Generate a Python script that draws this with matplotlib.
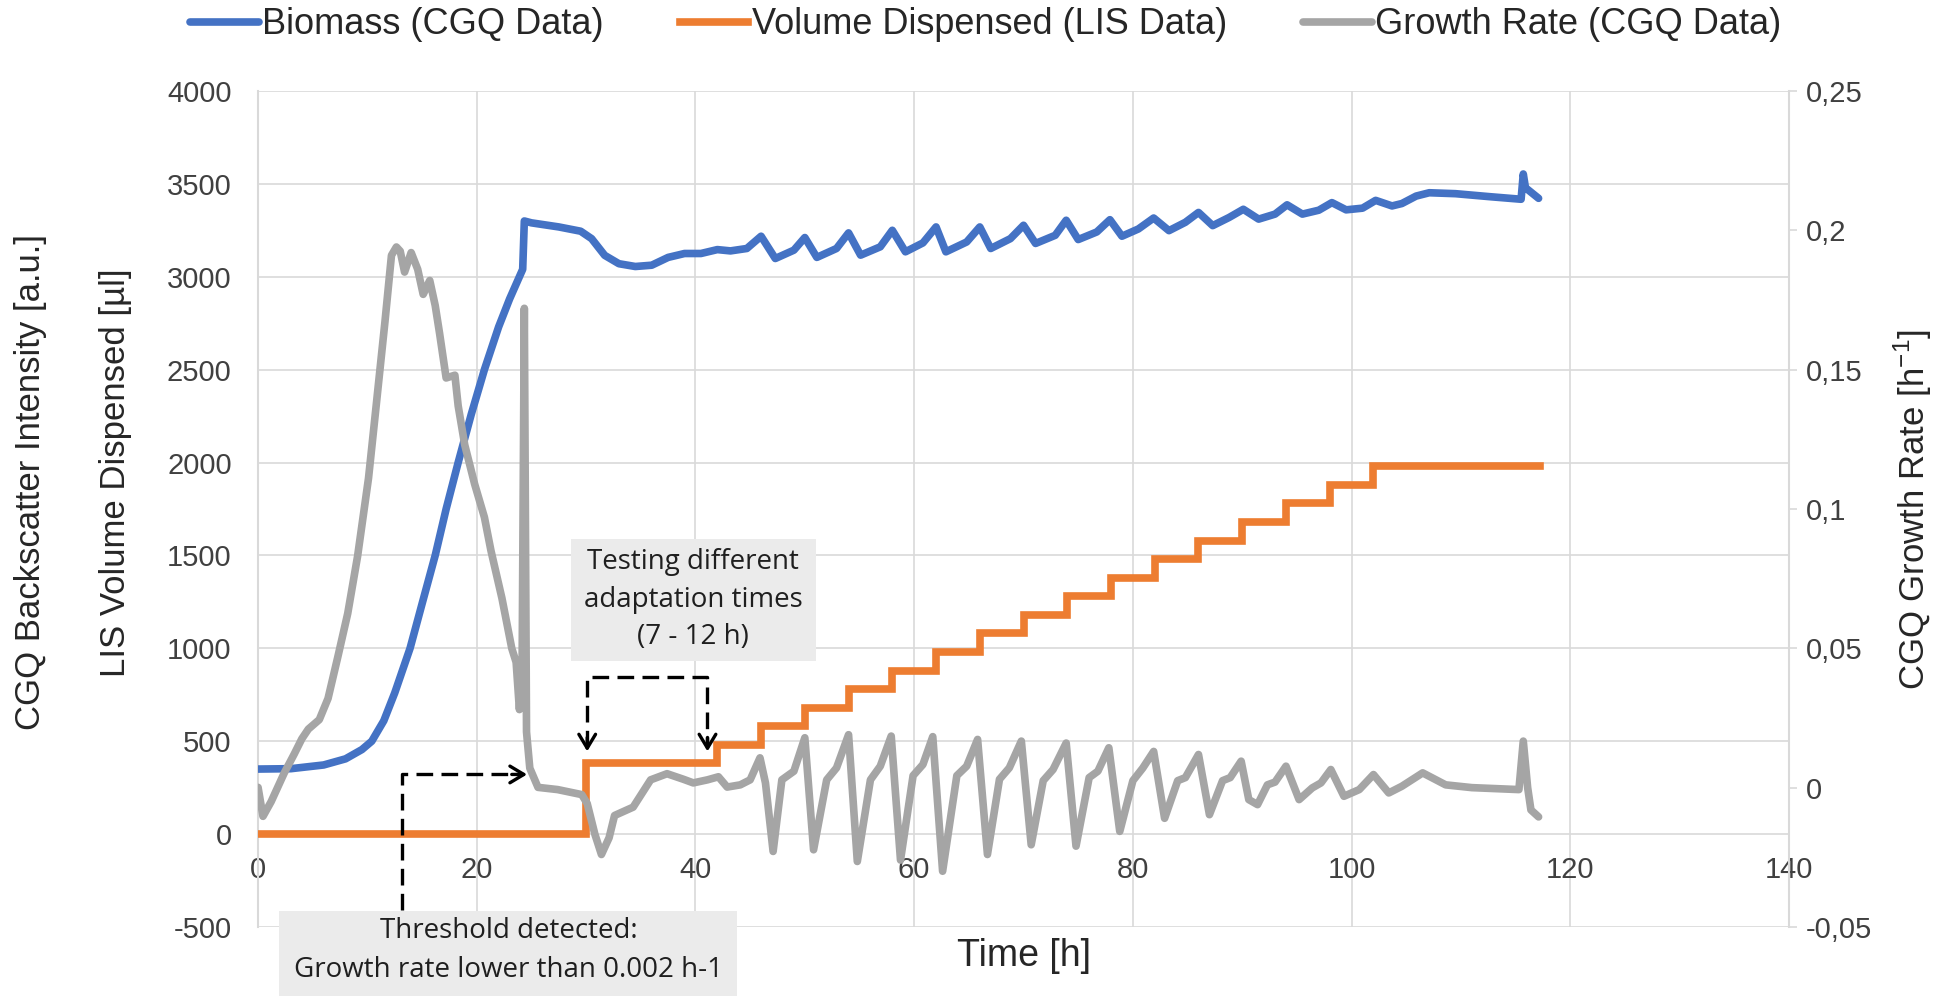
import matplotlib
matplotlib.use("Agg")
import matplotlib.pyplot as plt
from matplotlib.patches import Rectangle
from matplotlib.ticker import FuncFormatter

plt.rcParams["font.family"] = ["Liberation Sans", "DejaVu Sans"]
plt.rcParams["axes.unicode_minus"] = False
plt.rcParams["mathtext.fontset"] = "custom"
plt.rcParams["mathtext.rm"] = "Liberation Sans"

# biomass (CGQ backscatter), left axis
bio_t = [0, 3, 6, 8, 9.5, 10.4, 11.5, 12.5, 13.9, 15.0, 16.2, 17.2, 18.3, 19.5, 20.7, 22.0, 23.0,
         23.9, 24.2, 24.35, 25.0, 27.5, 29.5, 30.5, 31.7, 33.0, 34.5, 36.0, 37.5, 39.0, 40.5, 42.0,
         43.2, 44.7, 46.0, 47.3, 49.0, 50.0, 51.1, 52.9, 54.0, 55.1, 56.9, 58.0, 59.2, 60.8, 62.0,
         62.9, 64.8, 66.0, 67.0, 68.8, 70.0, 71.1, 72.9, 73.9, 75.0, 76.7, 77.9, 79.0, 80.5, 81.9,
         83.3, 84.8, 86.0, 87.3, 88.8, 90.1, 91.5, 93.0, 94.1, 95.5, 97.0, 98.2, 99.5, 101.0, 102.2,
         103.7, 104.6, 105.9, 107.1, 109.5, 112.6, 115.5, 115.7, 115.9, 117.1]
bio_val = [350, 352, 372, 405, 455, 500, 610, 760, 1000, 1240, 1500, 1750, 2000, 2260, 2500, 2730, 2880,
           3000, 3040, 3300, 3290, 3268, 3245, 3205, 3115, 3070, 3055, 3062, 3104, 3125, 3125, 3146,
           3139, 3152, 3218, 3098, 3143, 3211, 3104, 3152, 3236, 3116, 3161, 3250, 3134, 3182, 3268,
           3134, 3187, 3268, 3152, 3205, 3277, 3179, 3223, 3304, 3200, 3241, 3307, 3218, 3257, 3316,
           3248, 3293, 3346, 3275, 3319, 3363, 3310, 3337, 3387, 3337, 3358, 3399, 3360, 3369, 3411,
           3381, 3394, 3434, 3452, 3447, 3431, 3417, 3553, 3479, 3422]

# volume dispensed (LIS), left axis, steps
vol_t = [0, 30, 42, 46, 50, 54, 58, 62, 66, 70, 74, 78, 82, 86, 90, 94, 98, 102, 117.2]
vol_val = [0, 380, 480, 580, 680, 780, 880, 980, 1080, 1180, 1280, 1380, 1480, 1580, 1680, 1780,
           1880, 1980, 1980]

# growth rate (CGQ), right axis
gr_t = [0, 0.45, 1.2, 2.4, 3.3, 4.0, 4.6, 5.6, 6.4, 7.3, 8.2, 9.1, 10.1, 10.8, 11.6, 12.2, 12.65, 13.0,
        13.4, 14.0, 14.6, 15.1, 15.7, 16.2, 16.6, 17.2, 18.0, 18.3, 18.9, 19.8, 20.7, 21.3, 22.3, 23.2,
        23.6, 23.9, 24.15, 24.35, 24.55, 24.85, 25.6, 27.4, 29.6, 30.1, 30.8, 31.4, 32.1, 32.6, 34.3,
        35.9, 37.4, 38.9, 39.8, 41.1, 42.1, 42.9, 44.1, 45.0, 45.9, 46.4, 47.1, 47.9, 49.0, 50.0, 50.8,
        52.0, 52.9, 54.0, 54.8, 56.0, 56.9, 57.9, 58.75, 59.9, 60.8, 61.7, 62.6, 63.9, 64.8, 65.8, 66.7,
        67.8, 68.7, 69.8, 70.7, 71.8, 72.7, 73.9, 74.8, 76.0, 76.8, 77.8, 78.8, 80.0, 80.9, 81.9, 82.9,
        84.1, 84.8, 86.0, 87.0, 88.2, 88.9, 89.9, 90.6, 91.4, 92.3, 93.0, 94.0, 95.2, 96.4, 97.2, 98.1,
        99.3, 100.7, 102.0, 103.4, 104.6, 106.5, 108.6, 111.0, 115.3, 115.7, 116.1, 116.4, 117.1]
gr_val = [0.0001, -0.0103, -0.005, 0.0053, 0.012, 0.0175, 0.021, 0.0244, 0.032, 0.047, 0.0625, 0.083,
          0.111, 0.137, 0.167, 0.191, 0.194, 0.1925, 0.185, 0.192, 0.186, 0.177, 0.182, 0.173, 0.163,
          0.147, 0.148, 0.137, 0.123, 0.109, 0.097, 0.085, 0.068, 0.050, 0.045, 0.028, 0.045, 0.172,
          0.02, 0.007, 0.0001, -0.0007, -0.0025, -0.0057, -0.0167, -0.024, -0.018, -0.010, -0.007,
          0.0028, 0.005, 0.003, 0.0017, 0.0028, 0.0039, 0.0002, 0.001, 0.0028, 0.0107, 0.0017, -0.0229,
          0.0028, 0.0059, 0.0179, -0.0223, 0.0028, 0.0071, 0.019, -0.0265, 0.0028, 0.0077, 0.0185,
          -0.026, 0.0043, 0.0083, 0.0183, -0.030, 0.0043, 0.0077, 0.0173, -0.024, 0.003, 0.0071, 0.0167,
          -0.0205, 0.0025, 0.0065, 0.016, -0.021, 0.0036, 0.0059, 0.0143, -0.0157, 0.0025, 0.0070,
          0.013, -0.011, 0.0025, 0.0036, 0.0119, -0.0097, 0.0025, 0.0036, 0.0095, -0.0043, -0.0061,
          0.001, 0.002, 0.0077, -0.0043, -0.0001, 0.0017, 0.0065, -0.0031, -0.0007, 0.0047, -0.0019,
          0.0005, 0.0053, 0.001, 0.0, -0.0007, 0.0167, 0.0, -0.008, -0.0105]

left_ticks = [-500, 0, 500, 1000, 1500, 2000, 2500, 3000, 3500, 4000]
right_ticks = [-0.05, 0, 0.05, 0.1, 0.15, 0.2, 0.25]
x_ticks = [0, 20, 40, 60, 80, 100, 120, 140]

BLUE = "#4472C4"
ORANGE = "#ED7D31"
GRAY = "#A5A5A5"
GRID = "#D9D9D9"
TXT = "#404040"
LW = 5.5

fig = plt.figure(figsize=(19.52, 9.96), dpi=100)
ax = fig.add_axes([0.1322, 0.0693, 0.7843, 0.8394])
ax2 = ax.twinx()

l1, = ax.plot(bio_t, bio_val, color=BLUE, lw=LW, solid_capstyle="round", solid_joinstyle="round", zorder=3)
l2, = ax.step(vol_t, vol_val, where="post", color=ORANGE, lw=LW, solid_joinstyle="miter", zorder=3)
l3, = ax2.plot(gr_t, gr_val, color=GRAY, lw=LW, solid_capstyle="round", solid_joinstyle="round", zorder=3)

ax.set_xlim(0, 140)
ax.set_ylim(-500, 4000)
ax2.set_ylim(-0.05, 0.25)
ax.set_xticks(x_ticks)
ax.set_yticks(left_ticks)
ax2.set_yticks(right_ticks)
ax2.yaxis.set_major_formatter(FuncFormatter(lambda v, p: ("%g" % v).replace(".", ",")))

ax.grid(True, color=GRID, lw=1.2, zorder=0)
ax.set_axisbelow(True)

for s in ["top", "right"]:
    ax.spines[s].set_visible(False)
ax.spines["left"].set_color(GRID)
ax.spines["left"].set_linewidth(1.5)
ax.spines["bottom"].set_position(("data", 0))
ax.spines["bottom"].set_visible(False)
for s in ["top", "left", "bottom"]:
    ax2.spines[s].set_visible(False)
ax2.spines["right"].set_color(GRID)
ax2.spines["right"].set_linewidth(1.5)

ax.tick_params(axis="x", length=0, pad=16, labelsize=21, labelcolor=TXT)
ax.tick_params(axis="y", length=0, pad=19, labelsize=21, labelcolor=TXT)
ax2.tick_params(axis="y", length=6, width=1.2, color=GRID, pad=6, labelsize=21, labelcolor=TXT)

# axis titles
fig.text(31 / 1952, 1 - 482 / 996, "CGQ Backscatter Intensity [a.u.]", rotation=90,
         ha="center", va="center", fontsize=25, color="#262626")
fig.text(115 / 1952, 1 - 473 / 996, "LIS Volume Dispensed [µl]", rotation=90,
         ha="center", va="center", fontsize=25, color="#262626")
fig.text(1913 / 1952, 1 - 510 / 996, r"CGQ Growth Rate [h$^{\mathregular{-1}}$]", rotation=90,
         ha="center", va="center", fontsize=25, color="#262626")
fig.text(1024 / 1952, 1 - 956 / 996, "Time [h]", ha="center", va="center", fontsize=27, color="#262626")

# legend
fig.legend([l1, l2, l3], ["Biomass (CGQ Data)", "Volume Dispensed (LIS Data)", "Growth Rate (CGQ Data)"],
           loc="center", bbox_to_anchor=(0.505, 0.975), ncol=3, frameon=False, fontsize=26,
           handlelength=1.9, handletextpad=0.1, columnspacing=2.1, labelcolor="#262626")

# annotations
ANN_FONT = ["Open Sans", "DejaVu Sans"]
dash = (5, 2.5)

ax.add_patch(Rectangle((28.6, 934), 22.4, 656, facecolor="#EBEBEB", edgecolor="none", zorder=2))
ax.text(39.8, 1262, "Testing different\nadaptation times\n(7 - 12 h)", ha="center", va="center",
        fontsize=20, family=ANN_FONT, color="#1f1f1f", linespacing=1.45, zorder=4)
ax.plot([30.1, 30.1, 41.1, 41.1], [470, 844, 844, 470], color="black", lw=2.4, dashes=dash, zorder=5)
for xx in (30.1, 41.1):
    ax.annotate("", xy=(xx, 445), xytext=(xx, 520),
                arrowprops=dict(arrowstyle="->,head_length=0.5,head_width=0.3", color="black", lw=2.4,
                                mutation_scale=20, shrinkA=0, shrinkB=0), zorder=5)

ax.add_patch(Rectangle((1.95, -880), 41.85, 464, facecolor="#EBEBEB", edgecolor="none",
                       zorder=2, clip_on=False))
ax.text(22.9, -523, "Threshold detected:", ha="center", va="center", fontsize=20, family=ANN_FONT,
        color="#1f1f1f", zorder=4, clip_on=False)
ax.text(22.9, -733, "Growth rate lower than 0.002 h-1", ha="center", va="center", fontsize=20,
        family=ANN_FONT, color="#1f1f1f", zorder=4, clip_on=False)
ax.plot([13.2, 13.2, 24.0], [-411, 321, 321], color="black", lw=2.4, dashes=dash, zorder=5)
ax.annotate("", xy=(24.6, 321), xytext=(23.2, 321),
            arrowprops=dict(arrowstyle="->,head_length=0.5,head_width=0.3", color="black", lw=2.4,
                            mutation_scale=20, shrinkA=0, shrinkB=0), zorder=5)

fig.savefig("out.png", dpi=100)
